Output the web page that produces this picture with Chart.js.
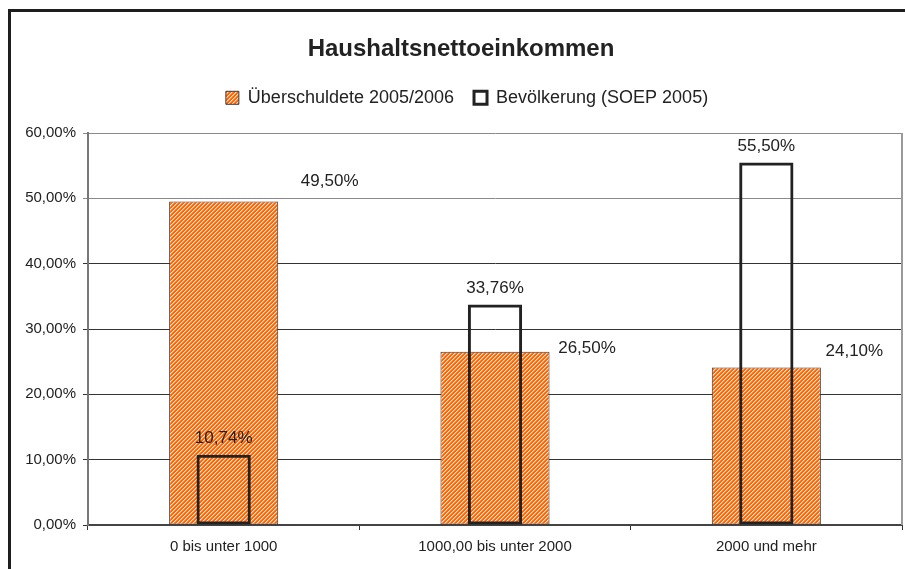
<!DOCTYPE html>
<html>
<head>
<meta charset="utf-8">
<script src="https://cdn.jsdelivr.net/npm/chart.js@4/dist/chart.umd.min.js"></script>
<style>
html,body{margin:0;padding:0;background:#fff;}
#wrap{width:905px;height:569px;}
</style>
</head>
<body>
<div id="wrap"><canvas id="c" width="905" height="569"></canvas></div>
<script>
// ---- data ----
const categories = ['0 bis unter 1000', '1000,00 bis unter 2000', '2000 und mehr'];
const seriesNames = ['Überschuldete 2005/2006', 'Bevölkerung (SOEP 2005)'];
const ueberschuldet = [49.50, 26.50, 24.10];
const bevoelkerung = [10.74, 33.76, 55.50];
const yTicks = [0, 10, 20, 30, 40, 50, 60];
const chartTitle = 'Haushaltsnettoeinkommen';

// ---- label placement (style) ----
const orangeLabelDx = [106, 92, 88];
const orangeLabelDy = [20, 4, 16];
const blackLabelDy = [17, 16, 16];
const legendShift = 6;

const FONT = '"Liberation Sans", Arial, sans-serif';
const TEXT = '#222';

const canvas = document.getElementById('c');
const ctx = canvas.getContext('2d');

function makeHatch() {
  const c = document.createElement('canvas');
  c.width = 4; c.height = 4;
  const g = c.getContext('2d');
  g.fillStyle = '#FF6600';
  g.fillRect(0, 0, 4, 4);
  g.fillStyle = '#FF9A5C';
  for (let i = 0; i < 4; i++) g.fillRect((4 - i) % 4, i, 1, 1);
  g.fillStyle = '#FFE2CC';
  for (let i = 0; i < 4; i++) g.fillRect(3 - i, i, 1, 1);
  return ctx.createPattern(c, 'repeat');
}
const hatch = makeHatch();

function fmt(v) { return v.toFixed(2).replace('.', ',') + '%'; }

const framePlugin = {
  id: 'frame',
  afterLayout(chart) {
    if (chart.legend) {
      chart.legend.left += legendShift;
      chart.legend.right += legendShift;
    }
  },
  beforeDraw(chart) {
    const c = chart.ctx;
    c.save();
    c.fillStyle = '#fff';
    c.fillRect(0, 0, chart.width, chart.height);
    c.fillStyle = '#1e1e1e';
    c.fillRect(8, 9, 3, chart.height);
    c.fillRect(8, 9, chart.width, 3);
    c.restore();
  },
  afterDraw(chart) {
    const a = chart.chartArea;
    const c = chart.ctx;
    c.save();
    c.strokeStyle = '#9a9a9a';
    c.lineWidth = 2;
    c.beginPath();
    c.moveTo(a.right, a.top);
    c.lineTo(a.right, a.bottom);
    c.stroke();
    c.restore();
  }
};

const labelPlugin = {
  id: 'vals',
  afterDatasetsDraw(chart) {
    const c = chart.ctx;
    c.save();
    c.font = '17px ' + FONT;
    c.fillStyle = TEXT;
    c.textAlign = 'center';
    c.textBaseline = 'middle';
    chart.getDatasetMeta(0).data.forEach((bar, i) => {
      const v = chart.data.datasets[0].data[i];
      c.fillText(fmt(v), bar.x + orangeLabelDx[i], bar.y - orangeLabelDy[i]);
    });
    chart.getDatasetMeta(1).data.forEach((bar, i) => {
      const v = chart.data.datasets[1].data[i];
      c.fillText(fmt(v), bar.x, bar.y - blackLabelDy[i]);
    });
    c.restore();
  }
};

new Chart(canvas, {
  type: 'bar',
  data: {
    labels: categories,
    datasets: [
      {
        label: seriesNames[0],
        data: ueberschuldet,
        backgroundColor: hatch,
        borderColor: '#3a3a3a',
        borderWidth: 1,
        borderSkipped: false,
        grouped: false,
        categoryPercentage: 1,
        barPercentage: 0.402,
        order: 1
      },
      {
        label: seriesNames[1],
        data: bevoelkerung,
        backgroundColor: 'rgba(255,255,255,0)',
        borderColor: '#222',
        borderWidth: 3,
        borderSkipped: false,
        grouped: false,
        categoryPercentage: 1,
        barPercentage: 0.2,
        order: 0
      }
    ]
  },
  options: {
    responsive: false,
    animation: false,
    devicePixelRatio: 1,
    layout: { padding: { left: 20, right: 3, top: 0, bottom: 0 } },
    plugins: {
      title: {
        display: true,
        text: chartTitle,
        color: TEXT,
        font: { family: FONT, size: 24, weight: 'bold' },
        padding: { top: 35, bottom: 5 }
      },
      legend: {
        display: true,
        position: 'top',
        weight: 1800,
        labels: {
          color: TEXT,
          font: { family: FONT, size: 18 },
          boxWidth: 13,
          boxHeight: 13,
          padding: 20,
          sort: (a, b) => a.datasetIndex - b.datasetIndex
        }
      },
      subtitle: {
        display: true,
        text: ' ',
        font: { size: 1, lineHeight: 1 },
        padding: { top: 0, bottom: 15.2 }
      },
      tooltip: { enabled: false }
    },
    scales: {
      x: {
        offset: true,
        grid: {
          offset: true,
          drawOnChartArea: false,
          tickLength: 5,
          color: '#333',
          lineWidth: 1
        },
        border: { color: '#444', width: 2 },
        ticks: {
          color: TEXT,
          font: { family: FONT, size: 15 },
          padding: 8,
          maxRotation: 0
        },
        afterFit(s) { s.height = 44; }
      },
      y: {
        min: 0,
        max: 60,
        afterBuildTicks(s) { s.ticks = yTicks.map(v => ({ value: v })); },
        grid: {
          color: c => (c.tick && c.tick.value >= 50) ? '#8a8a8a' : '#333',
          lineWidth: 1,
          tickLength: 5
        },
        border: { color: '#777', width: 2 },
        ticks: {
          color: TEXT,
          font: { family: FONT, size: 15 },
          padding: 7,
          callback: v => fmt(v)
        },
        afterFit(s) { s.width = 68; }
      }
    }
  },
  plugins: [framePlugin, labelPlugin]
});
</script>
</body>
</html>
